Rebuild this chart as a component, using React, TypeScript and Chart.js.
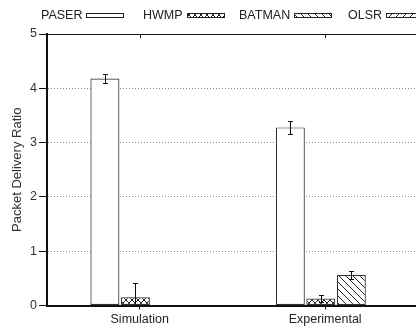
import React, { useEffect, useRef } from 'react';
import { Chart, registerables } from 'chart.js';

Chart.register(...registerables);

// ---- data ----
const categories = ['Simulation', 'Experimental'];
const seriesNames = ['PASER', 'HWMP', 'BATMAN', 'OLSR'];
const paser = [4.18, 3.28];
const paserErr = [0.09, 0.12];
const hwmp = [0.15, 0.13];
const hwmpErr = [0.27, 0.07];
const batman = [0, 0.56];
const batmanErr = [0, 0.08];
const olsr = [0, 0];
const olsrErr = [0, 0];
const yTicks = [0, 1, 2, 3, 4, 5];

const seriesValues = [paser, hwmp, batman, olsr];
const seriesErrors = [paserErr, hwmpErr, batmanErr, olsrErr];

const FONT = '"Liberation Sans", Arial, Helvetica, sans-serif';
const GROUP_SHIFT = 0.059;

function makePattern(kind: string): CanvasPattern | string {
  if (kind === 'none') return '#ffffff';
  const s = kind === 'cross' ? 6 : 7;
  const c = document.createElement('canvas');
  c.width = s;
  c.height = s;
  const g = c.getContext('2d')!;
  g.fillStyle = '#ffffff';
  g.fillRect(0, 0, s, s);
  g.strokeStyle = '#222';
  g.lineWidth = 1;
  g.beginPath();
  if (kind === 'back' || kind === 'cross') {
    g.moveTo(-1, -1);
    g.lineTo(s + 1, s + 1);
  }
  if (kind === 'fwd' || kind === 'cross') {
    g.moveTo(s + 1, -1);
    g.lineTo(-1, s + 1);
  }
  g.stroke();
  return g.createPattern(c, 'repeat')!;
}

const patternKinds = ['none', 'cross', 'back', 'fwd'];

const errorBarPlugin = {
  id: 'errorBars',
  afterDatasetsDraw(chart: any) {
    const ctx = chart.ctx;
    const y = chart.scales.y;
    const a = chart.chartArea;
    ctx.save();
    ctx.beginPath();
    ctx.rect(a.left, a.top - 10, a.right - a.left, a.bottom - a.top + 10);
    ctx.clip();
    ctx.strokeStyle = '#111';
    ctx.lineWidth = 1;
    chart.data.datasets.forEach((_ds: any, di: number) => {
      const meta = chart.getDatasetMeta(di);
      meta.data.forEach((bar: any, i: number) => {
        const e = seriesErrors[di][i];
        if (!e) return;
        const v = seriesValues[di][i];
        const x = Math.round(bar.x) + 0.5;
        const yt = Math.round(y.getPixelForValue(v + e)) + 0.5;
        const yb = Math.round(y.getPixelForValue(Math.max(0, v - e))) + 0.5;
        ctx.beginPath();
        ctx.moveTo(x, yt);
        ctx.lineTo(x, yb);
        ctx.moveTo(x - 2.5, yt);
        ctx.lineTo(x + 2.5, yt);
        if (v - e > 0) {
          ctx.moveTo(x - 2.5, yb);
          ctx.lineTo(x + 2.5, yb);
        }
        ctx.stroke();
      });
    });
    ctx.restore();
  },
};

const frameLegendPlugin = {
  id: 'frameLegend',
  afterDraw(chart: any) {
    const ctx = chart.ctx;
    const a = chart.chartArea;
    const x = chart.scales.x;
    ctx.save();
    // top border with inward ticks
    ctx.strokeStyle = '#111';
    ctx.lineWidth = 1;
    ctx.beginPath();
    ctx.moveTo(a.left, Math.round(a.top) + 0.5);
    ctx.lineTo(a.right, Math.round(a.top) + 0.5);
    categories.forEach((_c, i) => {
      const px = Math.round(x.getPixelForValue(i)) + 0.5;
      ctx.moveTo(px, a.top);
      ctx.lineTo(px, a.top + 4);
    });
    ctx.stroke();

    // legend: text followed by swatch
    const legendX = [41, 143, 239, 348];
    ctx.font = '12.5px ' + FONT;
    ctx.fillStyle = '#222';
    ctx.textBaseline = 'alphabetic';
    ctx.textAlign = 'left';
    seriesNames.forEach((name, i) => {
      const tx = legendX[i];
      ctx.fillText(name, tx, 19);
      const w = ctx.measureText(name).width;
      const sx = Math.round(tx + w + 4) + 0.5;
      ctx.fillStyle = chart.data.datasets[i].backgroundColor;
      ctx.fillRect(sx, 13.5, 37, 4);
      ctx.strokeStyle = '#222';
      ctx.strokeRect(sx, 13.5, 37, 4);
      ctx.fillStyle = '#222';
    });
    ctx.restore();
  },
};

export default function App() {
  const ref = useRef<HTMLCanvasElement | null>(null);

  useEffect(() => {
    if (!ref.current) return;
    Chart.defaults.font.family = FONT;
    const datasets = seriesNames.map((name, di) => ({
      label: name,
      data: seriesValues[di].map((v, i) => ({ x: i + GROUP_SHIFT, y: v })),
      backgroundColor: makePattern(patternKinds[di]) as any,
      borderColor: '#333',
      borderWidth: 1.2,
      borderSkipped: false,
      categoryPercentage: 0.658,
      barPercentage: 0.95,
    }));
    const chart = new Chart(ref.current, {
      type: 'bar',
      data: { datasets },
      options: {
        animation: false,
        responsive: false,
        maintainAspectRatio: false,
        layout: { padding: { top: 34, left: 0, right: 0, bottom: 0 } },
        plugins: {
          legend: { display: false },
          tooltip: { enabled: false },
        },
        scales: {
          x: {
            type: 'linear',
            min: -0.5,
            max: 1.49,
            offset: false,
            afterBuildTicks: (s: any) => {
              s.ticks = categories.map((_c, i) => ({ value: i }));
            },
            afterFit: (s: any) => {
              s.height = 20.5;
            },
            ticks: {
              autoSkip: false,
              maxRotation: 0,
              padding: 3,
              color: '#222',
              font: { size: 12.5 },
              callback: (v: any) => categories[v] ?? '',
            },
            grid: {
              display: true,
              drawOnChartArea: false,
              drawTicks: true,
              tickLength: 4,
              tickColor: '#111',
              offset: false,
            },
            border: { display: true, color: '#111', width: 2 },
          },
          y: {
            min: 0,
            max: 5,
            afterBuildTicks: (s: any) => {
              s.ticks = yTicks.map((v) => ({ value: v }));
            },
            afterFit: (s: any) => {
              s.width = 47;
            },
            ticks: {
              padding: 2,
              color: '#333',
              font: { size: 12.5 },
            },
            grid: {
              color: (c: any) =>
                c.tick && (c.tick.value === 0 || c.tick.value === 5) ? 'rgba(0,0,0,0)' : '#888',
              lineWidth: 1,
              drawTicks: true,
              tickLength: 8,
              tickColor: '#111',
            },
            border: { display: true, color: '#111', width: 2, dash: [1, 2] },
            title: {
              display: true,
              text: 'Packet Delivery Ratio',
              color: '#333',
              font: { size: 13 },
              padding: { top: 10, bottom: 0 },
            },
          },
        },
      },
      plugins: [errorBarPlugin, frameLegendPlugin],
    });
    return () => chart.destroy();
  }, []);

  return (
    <div style={{ position: 'absolute', left: 0, top: 0, width: 416, height: 326 }}>
      <canvas ref={ref} width={416} height={326} style={{ display: 'block', width: 416, height: 326 }} />
    </div>
  );
}
